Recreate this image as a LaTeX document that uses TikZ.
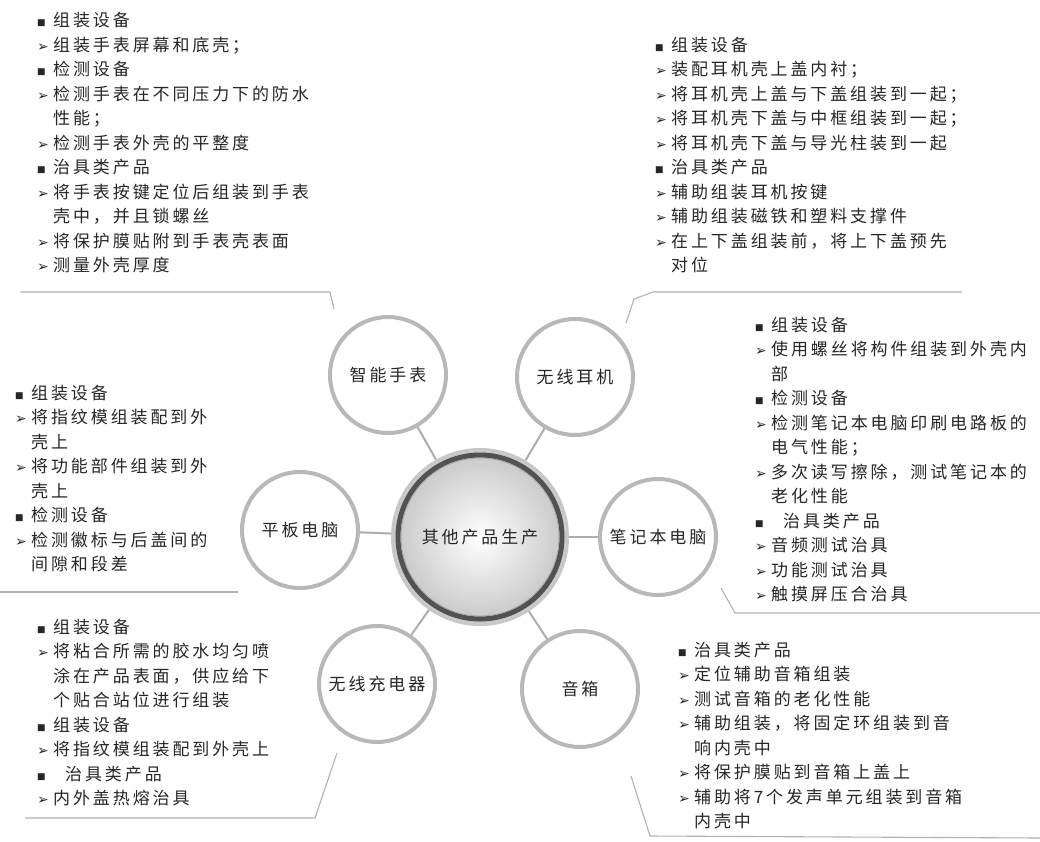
\documentclass[tikz,border=0pt]{standalone}
\usepackage{fontspec}
\newfontfamily\cjk[LetterSpace=17]{Noto Sans CJK SC}
\newfontfamily\dvs{DejaVu Sans}
\newcommand{\BulSq}{\makebox[16pt][l]{\raisebox{1pt}{\dvs\fontsize{9}{9}\selectfont ■}}}
\newcommand{\BulAr}{\makebox[16pt][l]{\dvs\fontsize{14}{14}\selectfont ➢}}
\newcommand{\BulNo}{\makebox[16pt][l]{}}
\usetikzlibrary{calc}
\tikzset{
  txt/.style={font=\cjk\fontsize{17}{24.5}\selectfont, text=black!85},
  block/.style={txt, anchor=north west, inner sep=0pt, align=left},
  sat/.style={txt, circle, draw=black!28, line width=4pt, minimum size=116pt, inner sep=0pt, fill=white},
  hub/.style={txt, circle, minimum size=178pt, inner sep=0pt},
  link/.style={draw=black!32, line width=2pt},
  sep/.style={draw=black!30, line width=1.1pt},
}
\begin{document}
\begin{tikzpicture}[x=1pt,y=-1pt]
\useasboundingbox (0,0) rectangle (1040,842);
\fill[white] (0,0) rectangle (1040,842);

% hub
\node[hub] (hub) at (480,537) {};
\shade[inner color=white, outer color=black!22] (hub.center) circle (86);
\draw[black!22, line width=3pt] (hub.center) circle (87.5);
\draw[black!68, line width=5pt] (hub.center) circle (82);
\draw[black!35, line width=0.8pt] (hub.center) circle (79);
\node[txt] (hubtext) at (hub.center) {其他产品生产};

% satellites
\node[sat] (watch) at (388,375) {智能手表};
\node[sat] (ear) at (575,377) {无线耳机};
\node[sat] (nb) at (658,537) {笔记本电脑};
\node[sat] (spk) at (580,689) {音箱};
\node[sat] (chg) at (377,684) {无线充电器};
\node[sat] (pad) at (300,530) {平板电脑};

% links
\foreach \s in {watch,ear,nb,spk,chg,pad}{
  \draw[link] (hub) -- (\s);
}

% separators / callout lines
\coordinate (tl1) at (20,292); \coordinate (tl2) at (330,292); \coordinate (tl3) at (334,309);
\draw[sep] (tl1) -- (tl2) -- (tl3);
\coordinate (tr0) at (626,323); \coordinate (tr1) at (634,299); \coordinate (tr2) at (653,292); \coordinate (tr3) at (962,292);
\draw[sep] (tr0) -- (tr1) -- (tr2) -- (tr3);
\coordinate (r0) at (721,588); \coordinate (r1) at (735,613); \coordinate (r2) at (1040,613);
\draw[sep] (r0) -- (r1) -- (r2);
\coordinate (l0) at (0,592); \coordinate (l1) at (238,592);
\draw[sep] (l0) -- (l1);
\coordinate (bl0) at (25,818); \coordinate (bl1) at (315,818); \coordinate (bl2) at (337,753);
\draw[sep] (bl0) -- (bl1) -- (bl2);
\coordinate (br0) at (631,776); \coordinate (br1) at (650,836); \coordinate (br2) at (1040,838);
\draw[sep] (br0) -- (br1) -- (br2);

% text blocks
\node[block] (tlb) at (37,9.5) {\begin{tabular}{@{}l@{}}
\BulSq 组装设备\\
\BulAr 组装手表屏幕和底壳；\\
\BulSq 检测设备\\
\BulAr 检测手表在不同压力下的防水\\
\BulNo 性能；\\
\BulAr 检测手表外壳的平整度\\
\BulSq 治具类产品\\
\BulAr 将手表按键定位后组装到手表\\
\BulNo 壳中，并且锁螺丝\\
\BulAr 将保护膜贴附到手表壳表面\\
\BulAr 测量外壳厚度
\end{tabular}};

\node[block] (trb) at (655,34) {\begin{tabular}{@{}l@{}}
\BulSq 组装设备\\
\BulAr 装配耳机壳上盖内衬；\\
\BulAr 将耳机壳上盖与下盖组装到一起；\\
\BulAr 将耳机壳下盖与中框组装到一起；\\
\BulAr 将耳机壳下盖与导光柱装到一起\\
\BulSq 治具类产品\\
\BulAr 辅助组装耳机按键\\
\BulAr 辅助组装磁铁和塑料支撑件\\
\BulAr 在上下盖组装前，将上下盖预先\\
\BulNo 对位
\end{tabular}};

\node[block] (rb) at (755,314) {\begin{tabular}{@{}l@{}}
\BulSq 组装设备\\
\BulAr 使用螺丝将构件组装到外壳内\\
\BulNo 部\\
\BulSq 检测设备\\
\BulAr 检测笔记本电脑印刷电路板的\\
\BulNo 电气性能；\\
\BulAr 多次读写擦除，测试笔记本的\\
\BulNo 老化性能\\
\BulSq \hspace{12pt}治具类产品\\
\BulAr 音频测试治具\\
\BulAr 功能测试治具\\
\BulAr 触摸屏压合治具
\end{tabular}};

\node[block] (lb) at (15,382) {\begin{tabular}{@{}l@{}}
\BulSq 组装设备\\
\BulAr 将指纹模组装配到外\\
\BulNo 壳上\\
\BulAr 将功能部件组装到外\\
\BulNo 壳上\\
\BulSq 检测设备\\
\BulAr 检测徽标与后盖间的\\
\BulNo 间隙和段差
\end{tabular}};

\node[block] (blb) at (37,616) {\begin{tabular}{@{}l@{}}
\BulSq 组装设备\\
\BulAr 将粘合所需的胶水均匀喷\\
\BulNo 涂在产品表面，供应给下\\
\BulNo 个贴合站位进行组装\\
\BulSq 组装设备\\
\BulAr 将指纹模组装配到外壳上\\
\BulSq \hspace{12pt}治具类产品\\
\BulAr 内外盖热熔治具
\end{tabular}};

\node[block] (brb) at (678,639) {\begin{tabular}{@{}l@{}}
\BulSq 治具类产品\\
\BulAr 定位辅助音箱组装\\
\BulAr 测试音箱的老化性能\\
\BulAr 辅助组装，将固定环组装到音\\
\BulNo 响内壳中\\
\BulAr 将保护膜贴到音箱上盖上\\
\BulAr 辅助将7个发声单元组装到音箱\\
\BulNo 内壳中
\end{tabular}};
\end{tikzpicture}
\end{document}
